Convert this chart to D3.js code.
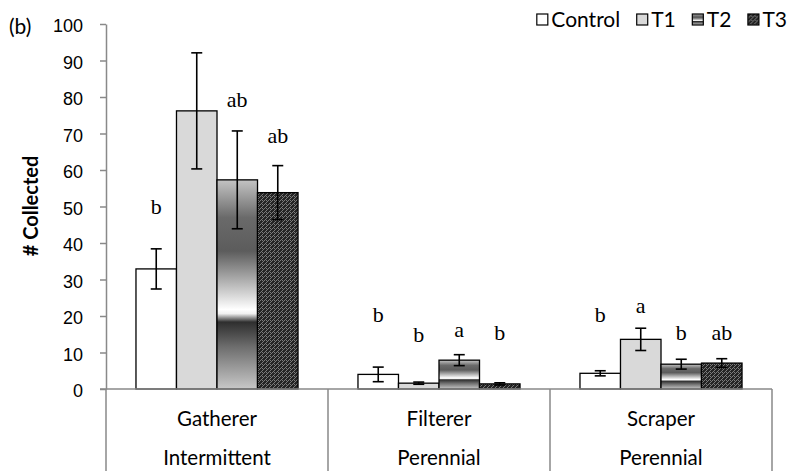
<!DOCTYPE html>
<html>
<head>
<meta charset="utf-8">
<script src="https://d3js.org/d3.v7.min.js"></script>
<style>
  body { margin: 0; background: #fff; }
  svg { display: block; font-family: Lato, "Open Sans", sans-serif; }
  .axis text { fill: #000; }
  .yaxis text { font-size: 18px; }
  .cat text { font-size: 20.5px; }
  .axis line, .axis path { stroke: #898989; stroke-width: 1.5; }
  .letter { font-family: "Liberation Serif", "DejaVu Serif", serif; font-size: 22px; }
</style>
</head>
<body>
<script>
// data
var groups = ['Gatherer', 'Filterer', 'Scraper'];
var habitats = ['Intermittent', 'Perennial', 'Perennial'];
var series = ['Control', 'T1', 'T2', 'T3'];
var means = [
  [32.9, 76.2, 57.3, 53.8],
  [4.0, 1.6, 7.9, 1.4],
  [4.3, 13.6, 6.8, 7.1]
];
var errs = [
  [5.5, 15.9, 13.4, 7.4],
  [2.0, 0.3, 1.5, 0.3],
  [0.7, 3.05, 1.35, 1.2]
];
// significance letters and the height (in # collected) where they sit
var letters = [
  ['b', '', 'ab', 'ab'],
  ['b', 'b', 'a', 'b'],
  ['b', 'a', 'b', 'ab']
];
var letterAt = [
  [48, 0, 77.3, 67.4],
  [18.4, 12.9, 14.2, 13.4],
  [18.4, 20.8, 13.4, 13.4]
];
var yTicks = d3.range(0, 101, 10);

var width = 789, height = 471;
var svg = d3.select('body').append('svg').attr('width', width).attr('height', height);

// fills
var defs = svg.append('defs');
var grad = defs.append('linearGradient').attr('id', 'gradT2')
  .attr('x1', 0).attr('y1', 0).attr('x2', 0).attr('y2', 1);
[[0, '#c4c4c4'], [0.18, '#6a6a6a'], [0.34, '#5c5c5c'], [0.62, '#ffffff'], [0.64, '#f0f0f0'],
 [0.68, '#2e2e2e'], [0.8, '#6e6e6e'], [1, '#c8c8c8']].forEach(function(s) {
  grad.append('stop').attr('offset', s[0]).attr('stop-color', s[1]);
});
var pat = defs.append('pattern').attr('id', 'patT3').attr('patternUnits', 'userSpaceOnUse')
  .attr('width', 8).attr('height', 8);
pat.append('rect').attr('width', 8).attr('height', 8).attr('fill', '#242424');
[[0,0],[2,0],[4,0],[6,0],[1,1],[5,1],[0,2],[4,2],[3,3],[7,3],[0,4],[2,4],[4,4],[6,4],[1,5],[5,5],[0,6],[4,6],[3,7],[7,7]].forEach(function(p) {
  pat.append('rect').attr('x', p[0]).attr('y', p[1]).attr('width', 1).attr('height', 1).attr('fill', '#7a7a7a');
});
var fills = { Control: '#ffffff', T1: '#d9d9d9', T2: 'url(#gradT2)', T3: 'url(#patT3)' };

var x0 = d3.scaleBand().domain(groups).range([106, 772]);
var x1 = d3.scaleBand().domain(series).range([0, x0.bandwidth()]).paddingOuter(0.74);
var y = d3.scaleLinear().domain([0, 100]).range([389, 24]);

// y axis
svg.append('g').attr('class', 'axis yaxis').attr('transform', 'translate(106,0)')
  .call(d3.axisLeft(y).tickValues(yTicks).tickSize(6).tickSizeOuter(0).tickPadding(17))
  .selectAll('text').attr('dy', '0.42em');

// bars
var rows = [];
groups.forEach(function(g, i) {
  series.forEach(function(s, j) {
    rows.push({ g: g, s: s, v: means[i][j], e: errs[i][j], l: letters[i][j], la: letterAt[i][j] });
  });
});

var bar = svg.append('g').selectAll('g').data(rows).enter().append('g')
  .attr('transform', function(d) { return 'translate(' + x0(d.g) + ',0)'; });

bar.append('rect')
  .attr('x', function(d) { return x1(d.s); })
  .attr('y', function(d) { return y(d.v); })
  .attr('width', x1.bandwidth())
  .attr('height', function(d) { return y(0) - y(d.v); })
  .attr('fill', function(d) { return fills[d.s]; })
  .attr('stroke', '#000').attr('stroke-width', 1.3);

var cx = function(d) { return x1(d.s) + x1.bandwidth() / 2; };
bar.append('line')
  .attr('x1', cx).attr('x2', cx)
  .attr('y1', function(d) { return y(d.v - d.e); })
  .attr('y2', function(d) { return y(d.v + d.e); });
bar.append('line')
  .attr('x1', function(d) { return cx(d) - 5.5; }).attr('x2', function(d) { return cx(d) + 5.5; })
  .attr('y1', function(d) { return y(d.v + d.e); }).attr('y2', function(d) { return y(d.v + d.e); });
bar.append('line')
  .attr('x1', function(d) { return cx(d) - 5.5; }).attr('x2', function(d) { return cx(d) + 5.5; })
  .attr('y1', function(d) { return y(d.v - d.e); }).attr('y2', function(d) { return y(d.v - d.e); });
bar.selectAll('line').attr('stroke', '#000').attr('stroke-width', 1.6);

bar.filter(function(d) { return d.l; }).append('text').attr('class', 'letter')
  .attr('x', cx).attr('y', function(d) { return y(d.la); })
  .attr('text-anchor', 'middle').text(function(d) { return d.l; });

// category axis: baseline and separators
var cat = svg.append('g').attr('class', 'axis cat');
cat.append('line').attr('x1', 100).attr('x2', x0.range()[1]).attr('y1', y(0)).attr('y2', y(0));
cat.selectAll('.sep').data(groups.concat(['end'])).enter().append('line').attr('class', 'sep')
  .attr('x1', function(d, i) { return i < groups.length ? x0(d) : x0.range()[1]; })
  .attr('x2', function(d, i) { return i < groups.length ? x0(d) : x0.range()[1]; })
  .attr('y1', y(0)).attr('y2', height);
cat.selectAll('.g1').data(groups).enter().append('text')
  .attr('x', function(d) { return x0(d) + x0.bandwidth() / 2; }).attr('y', 426)
  .attr('text-anchor', 'middle').text(function(d) { return d; });
cat.selectAll('.g2').data(habitats).enter().append('text')
  .attr('x', function(d, i) { return x0(groups[i]) + x0.bandwidth() / 2; }).attr('y', 465)
  .attr('text-anchor', 'middle').text(function(d) { return d; });

// titles
svg.append('text').attr('x', 9).attr('y', 34).style('font-size', '21px').text('(b)');
svg.append('text').attr('transform', 'translate(38,206) rotate(-90)')
  .attr('text-anchor', 'middle').style('font-size', '20px').style('font-weight', 'bold').text('# Collected');

// legend
var leg = svg.append('g');
var lx = 0;
series.forEach(function(s) {
  var it = leg.append('g').attr('transform', 'translate(' + lx + ',0)');
  it.append('rect').attr('x', 0.5).attr('y', 14).attr('width', 11).attr('height', 11)
    .attr('fill', fills[s]).attr('stroke', '#000').attr('stroke-width', 1.2);
  var t = it.append('text').attr('x', 15).attr('y', 27).style('font-size', '21px').text(s);
  lx += 15 + t.node().getComputedTextLength() + 16;
});
leg.attr('transform', 'translate(' + (787 - (lx - 16)) + ',0)');
</script>
</body>
</html>
